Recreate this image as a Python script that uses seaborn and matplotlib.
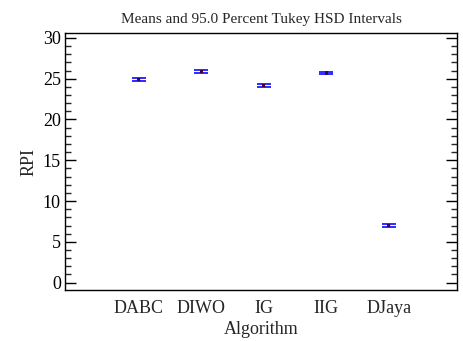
import matplotlib
matplotlib.use("Agg")
import matplotlib.pyplot as plt
import seaborn as sns
import pandas as pd
from matplotlib.ticker import MultipleLocator

algorithms = ["DABC", "DIWO", "IG", "IIG", "DJaya"]
means = [24.85, 25.9, 24.2, 25.7, 7.06]
half_widths = [0.18, 0.18, 0.18, 0.18, 0.18]

sns.set_theme(style="ticks")
plt.rcParams["font.family"] = ["Liberation Serif", "DejaVu Serif"]

df = pd.DataFrame({"Algorithm": algorithms, "RPI": means, "hw": half_widths})

fig = plt.figure(figsize=(4.63, 3.41), dpi=100)
ax = fig.add_axes([65/463, 1 - 290/341, (457-65)/463, (290-33)/341])

ax.errorbar(df["Algorithm"], df["RPI"], yerr=df["hw"], fmt="none",
            ecolor="#1a1aff", elinewidth=1.0, capsize=5.2, capthick=1.3, zorder=2)
sns.scatterplot(data=df, x="Algorithm", y="RPI", ax=ax, color="#400050",
                marker="s", s=5, edgecolor="none", zorder=3, legend=False)

ax.set_xlim(-1.18, 5.09)
ax.set_ylim(-0.9, 30.6)
ax.yaxis.set_major_locator(MultipleLocator(5))
ax.yaxis.set_minor_locator(MultipleLocator(1))
ax.tick_params(axis="y", which="major", direction="in", length=8, width=1,
               left=True, right=True, labelsize=13, pad=3, colors="black")
ax.tick_params(axis="y", which="minor", direction="in", length=4, width=1,
               left=True, right=True)
ax.tick_params(axis="x", which="both", length=0, labelsize=13, pad=7)
for s in ax.spines.values():
    s.set_visible(True)
    s.set_color("black")
    s.set_linewidth(1.0)

ax.set_xlabel("Algorithm", fontsize=13, labelpad=3)
ax.set_ylabel("RPI", fontsize=13, labelpad=4)
ax.set_title("Means and 95.0 Percent Tukey HSD Intervals", fontsize=11, pad=7)

fig.savefig("out.png", dpi=100, facecolor="white")
